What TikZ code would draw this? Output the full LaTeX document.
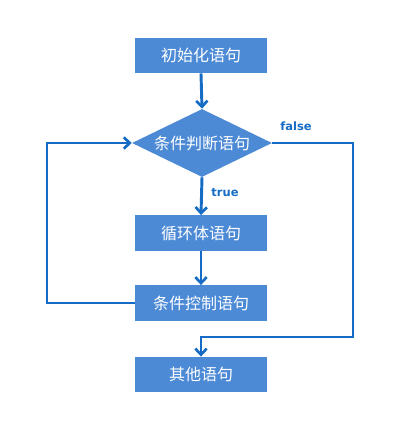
\documentclass[tikz,border=0pt]{standalone}
\usepackage{fontspec}
\usetikzlibrary{shapes.geometric,arrows.meta}
\newfontfamily\cjk{Noto Sans CJK SC}
\newfontfamily\labfont{DejaVu Sans}
\definecolor{linec}{RGB}{22,108,196}
\definecolor{boxc}{RGB}{76,138,214}
\tikzset{
  stepbox/.style={draw=none, fill=boxc, text=white, font=\cjk\fontsize{12pt}{14pt}\selectfont,
    minimum width=99pt, minimum height=26.5pt, inner sep=0pt},
  decbox/.style={diamond, draw=none, fill=boxc, text=white, font=\cjk\fontsize{12pt}{14pt}\selectfont,
    minimum width=105pt, minimum height=51pt, inner sep=0pt, aspect=2.06},
  conn/.style={draw=linec, line width=2.2pt, -{Straight Barb[length=4.5pt,width=8.5pt,line width=2pt]}},
  plainconn/.style={draw=linec, line width=2.2pt},
  lab/.style={text=linec, font=\labfont\bfseries\fontsize{8.6pt}{10pt}\selectfont, inner sep=0pt}
}
\begin{document}
\begin{tikzpicture}[x=0.75pt, y=-0.75pt]
\useasboundingbox (0,0) rectangle (406,432);
\node[stepbox] (init) at (201,55.5) {初始化语句};
\node[decbox] (cond) at (202,143) {条件判断语句};
\node[stepbox] (body) at (201,233) {循环体语句};
\node[stepbox] (ctrl) at (201,303) {条件控制语句};
\node[stepbox] (other) at (201,374.5) {其他语句};
\node[lab] (tlab) at (225,193) {true};
\node[lab] (flab) at (296,126) {false};
\coordinate (L) at (47,143);
\coordinate (R1) at (353,143);
\coordinate (R2) at (353,337);
\draw[conn] (init.south) -- (cond.north);
\draw[conn] (cond.south) -- (body.north);
\draw[conn] (body.south) -- (ctrl.north);
\draw[conn] (ctrl.west) -| (L) -- (cond.west);
\draw[conn] (cond.east) -- (R1) -- (R2) -| (other.north);
\end{tikzpicture}
\end{document}
